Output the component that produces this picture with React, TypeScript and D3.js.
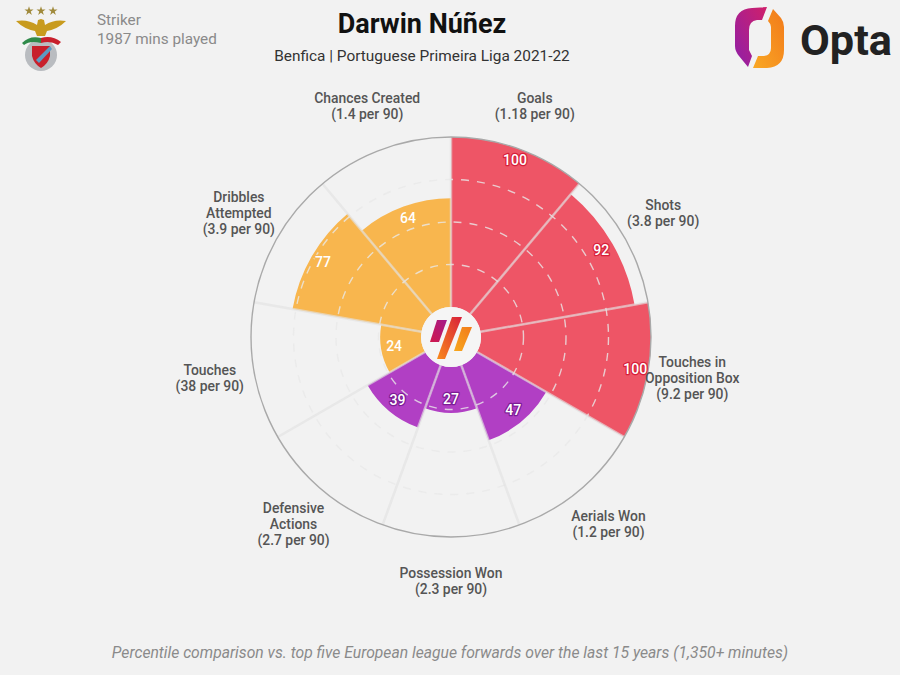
import * as d3 from 'd3'

const categories = [
  ['Goals', '(1.18 per 90)'],
  ['Shots', '(3.8 per 90)'],
  ['Touches in', 'Opposition Box', '(9.2 per 90)'],
  ['Aerials Won', '(1.2 per 90)'],
  ['Possession Won', '(2.3 per 90)'],
  ['Defensive', 'Actions', '(2.7 per 90)'],
  ['Touches', '(38 per 90)'],
  ['Dribbles', 'Attempted', '(3.9 per 90)'],
  ['Chances Created', '(1.4 per 90)'],
]
const percentiles = [100, 92, 100, 47, 27, 39, 24, 77, 64]
const groups = ['attack', 'attack', 'attack', 'defence', 'defence', 'defence', 'build', 'build', 'build']
const rings = [25, 50, 75]

const FONT = 'Roboto, sans-serif'
const CX = 451
const CY = 337
const INNER = 30
const OUTER = 200
const LABEL_R = 245

const fillColor: Record<string, string> = { attack: '#ee5566', defence: '#b13fc4', build: '#f8b64e' }
const strokeColor: Record<string, string> = { attack: '#d81f3a', defence: '#7d1c96', build: '#f8b64e' }

export default function App() {
  const angle = d3
    .scaleBand<number>()
    .domain(d3.range(categories.length))
    .range([0, 2 * Math.PI])
  const radius = d3.scaleLinear().domain([0, 100]).range([INNER, OUTER])
  const arc = d3.arc<number>()
    .innerRadius(INNER)
    .outerRadius(d => radius(d))
    .startAngle((_, i) => angle(i)!)
    .endAngle((_, i) => angle(i)! + angle.bandwidth())

  const polar = (r: number, a: number): [number, number] => [r * Math.sin(a), -r * Math.cos(a)]

  return (
    <svg width={900} height={675} style={{ position: 'absolute', left: 0, top: 0, background: '#f2f2f2' }} fontFamily={FONT}>
      <defs>
        <linearGradient id="optaLeft" x1="0" y1="1" x2="1" y2="0">
          <stop offset="0" stopColor="#8f1fa8" />
          <stop offset="1" stopColor="#d0206a" />
        </linearGradient>
        <linearGradient id="optaRight" x1="1" y1="0" x2="0" y2="1">
          <stop offset="0" stopColor="#f27a1a" />
          <stop offset="1" stopColor="#f9a825" />
        </linearGradient>
        <linearGradient id="markLeft" x1="0" y1="1" x2="1" y2="0">
          <stop offset="0" stopColor="#d0184a" />
          <stop offset="1" stopColor="#a51c8c" />
        </linearGradient>
        <linearGradient id="markMid" x1="0" y1="1" x2="1" y2="0">
          <stop offset="0" stopColor="#f98a1c" />
          <stop offset="1" stopColor="#d81f3a" />
        </linearGradient>
        <linearGradient id="markRight" x1="0" y1="1" x2="1" y2="0">
          <stop offset="0" stopColor="#f7a81e" />
          <stop offset="1" stopColor="#f27a1a" />
        </linearGradient>
      </defs>

      <g transform={`translate(${CX},${CY})`}>
        {percentiles.map((v, i) => (
          <path key={i} d={arc(v, i)!} fill={fillColor[groups[i]]} />
        ))}
        {rings.map(r => (
          <circle key={r} r={radius(r)} fill="none" stroke="rgba(232,232,232,0.8)" strokeWidth={1.4} strokeDasharray="8 8" />
        ))}
        {categories.map((_, i) => {
          const [x1, y1] = polar(INNER, angle(i)!)
          const [x2, y2] = polar(OUTER, angle(i)!)
          return <line key={i} x1={x1} y1={y1} x2={x2} y2={y2} stroke="rgba(226,226,226,0.65)" strokeWidth={2.5} />
        })}
        <circle r={OUTER} fill="none" stroke="#a9a9a9" strokeWidth={1.4} />
        <circle r={INNER} fill="#f5f5f5" />

        <path d="M-21,5 L-14,-17 L-4,-17 L-12,5 Z" fill="url(#markLeft)" />
        <path d="M1,-20 L11,-20 L-6,22 L-14,22 Z" fill="url(#markMid)" />
        <path d="M11,-10 L21,-10 L11,14 L3,14 Z" fill="url(#markRight)" />

        {percentiles.map((v, i) => {
          const [x, y] = polar(radius(v) - 13, angle(i)! + angle.bandwidth() / 2)
          return (
            <text key={i} x={x} y={y} dy="0.3em" textAnchor="middle" fontSize={14} fontWeight={500} fill="#fff"
              stroke={strokeColor[groups[i]]} strokeWidth={2.5} paintOrder="stroke" strokeLinejoin="round">{v}</text>
          )
        })}

        {categories.map((lines, i) => {
          const [x, y] = polar(LABEL_R, angle(i)! + angle.bandwidth() / 2)
          return (
            <text key={i} textAnchor="middle" fontSize={13.9} fontWeight={500} fill="#555">
              {lines.map((l, j) => (
                <tspan key={j} x={x} y={y + (j - (lines.length - 1) / 2) * 16} dy="0.28em">{l}</tspan>
              ))}
            </text>
          )
        })}
      </g>

      <text x={422} y={33} textAnchor="middle" fontSize={27} fontWeight={700} fill="#111">Darwin Núñez</text>
      <text x={422} y={61} textAnchor="middle" fontSize={15.4} fill="#333">Benfica | Portuguese Primeira Liga 2021-22</text>
      <text x={97} y={25} fontSize={15.3} fill="#8a8a8a">Striker</text>
      <text x={97} y={44} fontSize={15.3} fill="#8a8a8a">1987 mins played</text>
      <text x={450} y={658} textAnchor="middle" fontSize={15.7} fontStyle="italic" fill="#8a8a8a">
        Percentile comparison vs. top five European league forwards over the last 15 years (1,350+ minutes)
      </text>

      {/* club crest */}
      <g>
        {[29, 41, 53].map(x => (
          <path key={x} d={d3.symbol(d3.symbolStar, 26)()!} transform={`translate(${x},11)`} fill="#a08a3c" />
        ))}
        <path d="M16,21 Q28,19 37,25 L38,20 L41,19 L44,20 L45,25 Q54,19 66,21 Q58,29 47,31 L45,36 L37,36 L35,31 Q24,29 16,21 Z" fill="#c89b1e" />
        <circle cx={41} cy={55} r={16} fill="#b9bcc0" />
        <path d="M22,43 Q30,35 41,38 L41,43 Q30,40 24,45 Z" fill="#2f8a4a" />
        <path d="M41,38 Q52,35 61,42 L58,45 Q50,40 41,43 Z" fill="#c8202c" />
        <path d="M32,46 L50,46 L50,56 Q48,64 41,68 Q34,64 32,56 Z" fill="#c8202c" />
        <path d="M36,60 L50,46 L52,49 L39,63 Z" fill="#5b9bc4" />
      </g>

      {/* opta logo */}
      <g>
        <path d="M767,7 L762,20 L757,20 Q749,21 749,30 L749,50 L752,56 L748,67 L739,56 Q735,51 735,46 L735,26 Q735,9 752,8 Z" fill="url(#optaLeft)" />
        <path d="M773,9 L781,18 Q784,22 784,27 L784,50 Q784,67 767,68 L753,68 L758,56 L764,56 Q771,55 771,48 L771,27 Q771,24 768,21 Z" fill="url(#optaRight)" />
        <text x={800} y={55} fontSize={42} fontWeight={700} fill="#222" textLength={92} lengthAdjust="spacingAndGlyphs">Opta</text>
      </g>
    </svg>
  )
}
